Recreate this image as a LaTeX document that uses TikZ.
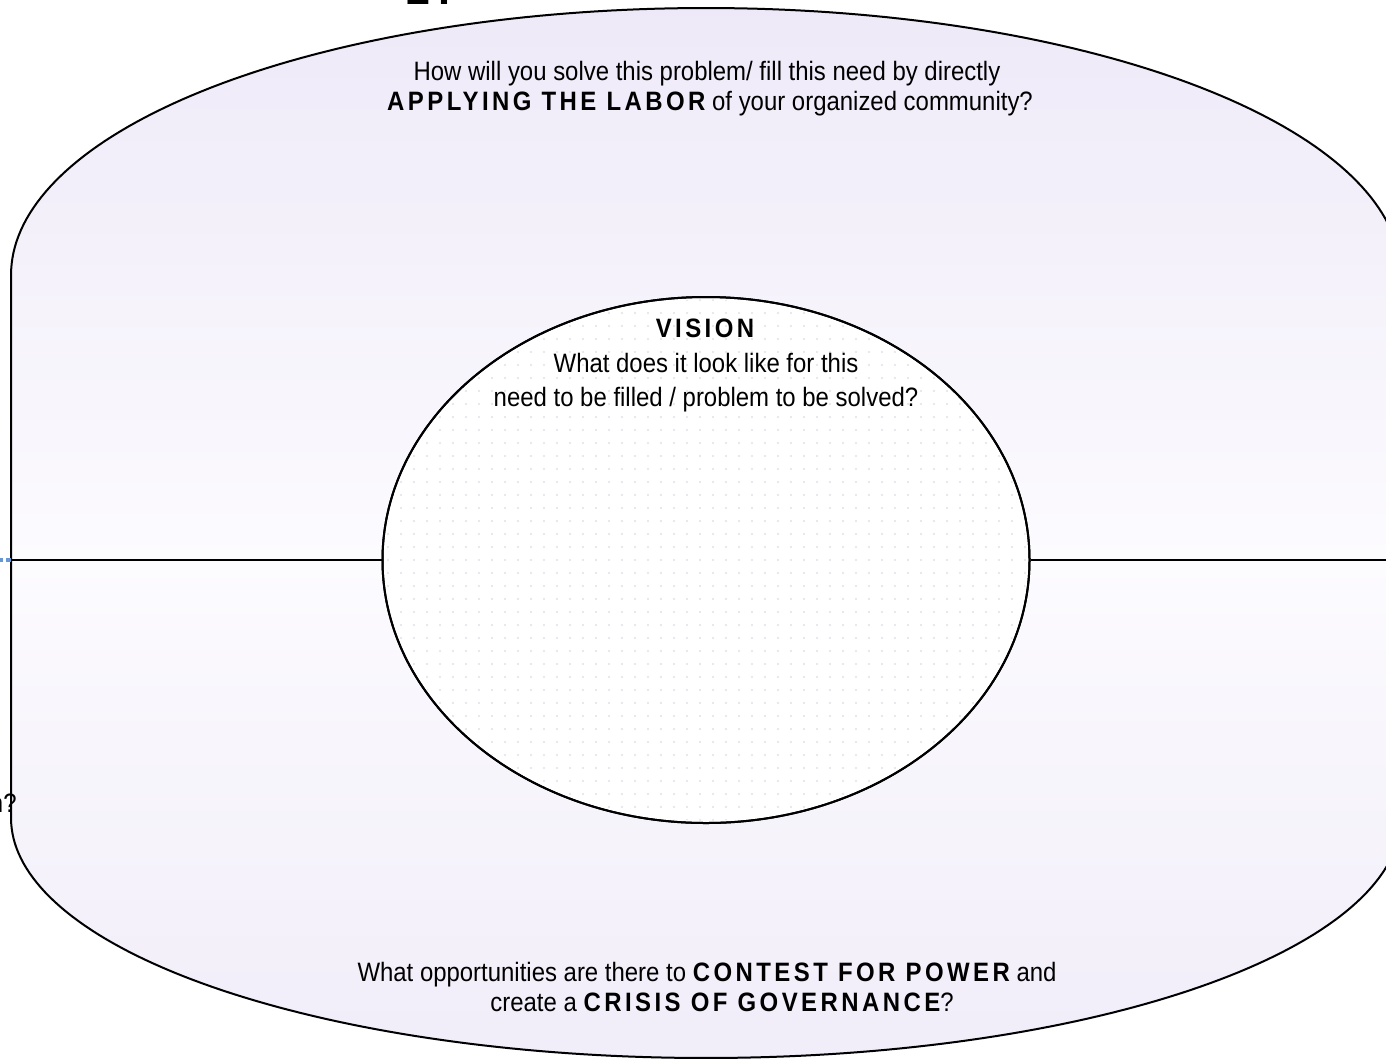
\documentclass[tikz,border=0pt]{standalone}
\usepackage{fontspec}
\setmainfont{Liberation Sans}[FakeStretch=0.9]
\newfontfamily\capsfont{Liberation Sans}[FakeStretch=0.9, LetterSpace=13]
\usetikzlibrary{shapes.geometric}
\definecolor{lav}{RGB}{238,233,248}
\definecolor{lavb}{RGB}{241,237,249}
\definecolor{midc}{RGB}{252,251,254}
\definecolor{dotc}{RGB}{224,224,231}
\definecolor{linkblue}{RGB}{102,150,212}
\newcommand{\kw}[1]{{\capsfont\bfseries #1}}
\begin{document}
\begin{tikzpicture}[x=0.5pt,y=-0.5pt,
  txt/.style={anchor=base, inner sep=0, font=\fontsize{13.3}{16}\selectfont},
  edge/.style={line width=1pt, draw=black}]
\useasboundingbox (0,0) rectangle (1386,1061);
% outer rounded frame: shaded fill
\begin{scope}
  \clip (11,275) -- (11,818)
    -- plot[domain=180:360,samples=150] ({706+695*cos(\x)},{818-240*sin(\x)})
    -- (1401,275)
    -- plot[domain=0:180,samples=150] ({706+695*cos(\x)},{275-267*sin(\x)})
    -- cycle;
  \shade[top color=lav, bottom color=midc] (0,0) rectangle (1410,560);
  \shade[top color=midc, bottom color=lavb] (0,560) rectangle (1410,1061);
\end{scope}
\draw[edge] (11,275) -- (11,818)
  -- plot[domain=180:360,samples=150] ({706+695*cos(\x)},{818-240*sin(\x)})
  -- (1401,275)
  -- plot[domain=0:180,samples=150] ({706+695*cos(\x)},{275-267*sin(\x)})
  -- cycle;
\coordinate (L) at (11,560);
\coordinate (R) at (1401,560);
\coordinate (blueend) at (-2,560);
% inner vision ellipse
\node[ellipse, draw=black, line width=1pt, fill=white, minimum width=323.5pt, minimum height=263pt, inner sep=0] (vision) at (706,560) {};
\begin{scope}
  \clip (vision.center) ellipse [x radius=160.5pt, y radius=130.3pt];
  \foreach \i in {0,...,50}{
    \foreach \j in {0,...,41}{
      \fill[dotc] ({388+\i*13},{300+\j*13}) circle[radius=0.6pt];
    }
  }
\end{scope}
\node[ellipse, draw=black, line width=1pt, minimum width=323.5pt, minimum height=263pt, inner sep=0] at (vision.center) {};
% divider
\draw[linkblue, line width=2pt, dash pattern=on 2.5pt off 1.5pt] (blueend) -- (L);
\draw[edge] (L) -- (vision.west);
\draw[edge] (vision.east) -- (R);
% texts
\node[txt] (t1) at (707,80) {How will you solve this problem/ fill this need by directly};
\node[txt] (t2) at (710,110) {\kw{APPLYING THE LABOR} of your organized community?};
\node[txt] (v1) at (705,337) {\kw{VISION}};
\node[txt] (v2) at (706,372) {What does it look like for this};
\node[txt] (v3) at (706,406) {need to be filled / problem to be solved?};
\node[txt] (b1) at (707,981) {What opportunities are there to \kw{CONTEST FOR POWER} and};
\node[txt] (b2) at (722,1011) {create a \kw{CRISIS OF GOVERNANCE}?};
% cut-off texts at the edges
\node[anchor=base west, inner sep=0, font=\fontsize{24}{24}\selectfont\bfseries] (cut1) at (406.5,4.5) {2\kern3.7pt.};
\node[txt, anchor=base east] (cut2) at (17,812) {n?};
\end{tikzpicture}
\end{document}
